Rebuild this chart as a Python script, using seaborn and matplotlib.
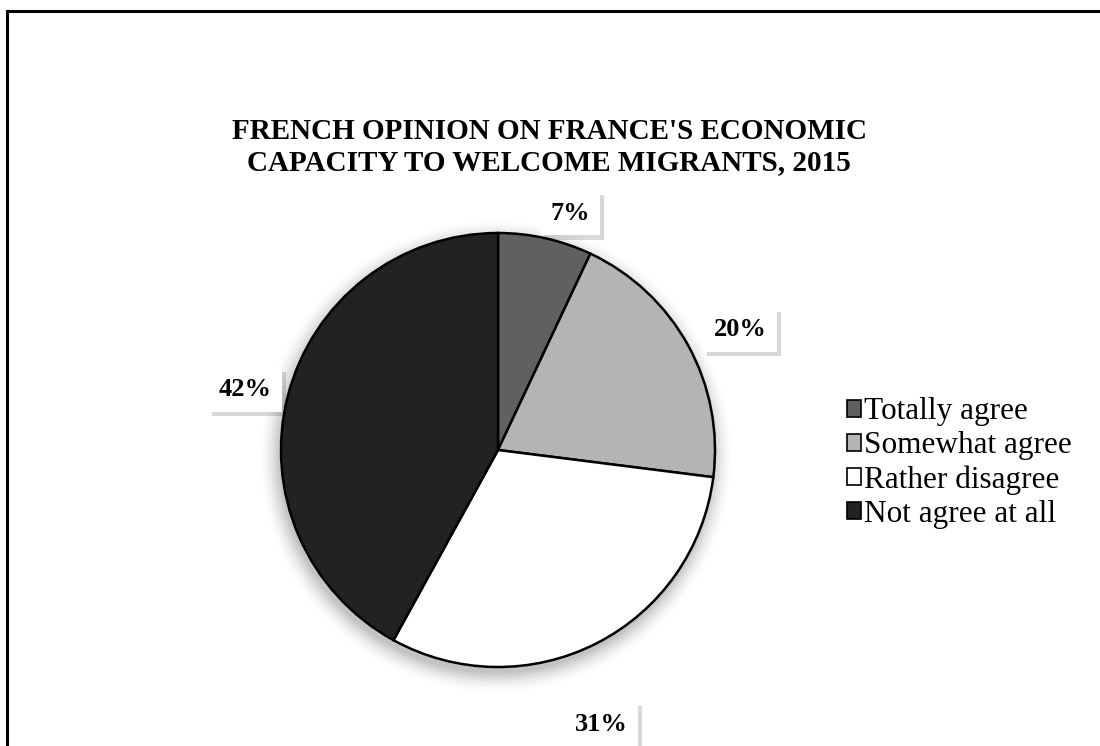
#!/usr/bin/env python3
"""
plot.py - French opinion pie chart, 2015
"""

import matplotlib
matplotlib.use("Agg")
import matplotlib.pyplot as plt
import matplotlib.patheffects as pe
from matplotlib.patches import Patch, Circle, Rectangle
import numpy as np
import seaborn as sns

# ── Data ─────────────────────────────────────────────────────────────
categories = ["Totally agree", "Somewhat agree", "Rather disagree", "Not agree at all"]
shares = [7, 20, 31, 42]
title = "FRENCH OPINION ON FRANCE'S ECONOMIC\nCAPACITY TO WELCOME MIGRANTS, 2015"

# ── Style ────────────────────────────────────────────────────────────
colors = ["#606060", "#b4b4b4", "#ffffff", "#222222"]
label_dist = [1.14, 1.245, 1.35, 1.20]   # outside-end label offsets (radius units)
label_tilt = [-4.3, -2.4, -6.4, 1.0]     # degrees off the wedge mid-angle

sns.set_theme(style="white")
plt.rcParams["font.family"] = ["Liberation Serif", "DejaVu Serif"]
plt.rcParams["text.color"] = "black"

W, H = 1100, 746
fig = plt.figure(figsize=(W / 100, H / 100), dpi=100)
fig.patch.set_facecolor("white")

# outer chart frame (runs off the right/bottom edges like the reference)
fig.add_artist(Rectangle((7 / W, -0.05), 1.2, 1 - 11 / H + 0.05,
                         transform=fig.transFigure, fill=False,
                         edgecolor="black", lw=2.2))

# pie axes: centre (498, 450), radius 217 px
cx, cy, r = 498, 450, 217
ax = fig.add_axes([(cx - r) / W, (H - cy - r) / H, 2 * r / W, 2 * r / H])

wedges, _ = ax.pie(shares, colors=colors, startangle=90, counterclock=False,
                   radius=1.0, wedgeprops=dict(edgecolor="black", linewidth=1.8))
for w in wedges:
    w.set_zorder(2)

ax.set_xlim(-1, 1)
ax.set_ylim(-1, 1)
ax.set_aspect("equal")
ax.axis("off")

# soft shadow under the pie
for i, a in enumerate(np.linspace(0.05, 0.012, 8)):
    ax.add_patch(Circle((-0.01, -0.03), 1.0 + 0.012 * i, color="black",
                        alpha=a, lw=0, zorder=0, clip_on=False))

# percentage labels in white boxes with shadow
theta = 90 - np.cumsum([0] + shares[:-1]) * 3.6 - np.array(shares) * 1.8
for val, ang, d, tilt in zip(shares, theta, label_dist, label_tilt):
    a = np.deg2rad(ang + tilt)
    t = ax.text(d * np.cos(a), d * np.sin(a), f"{val}%", ha="center", va="center",
                fontsize=19, fontweight="bold", color="black", zorder=5,
                bbox=dict(boxstyle="square,pad=0.4", facecolor="white",
                          edgecolor="none"))
    t.get_bbox_patch().set_path_effects(
        [pe.withSimplePatchShadow(offset=(3, -3), shadow_rgbFace="black", alpha=0.15)])

# title
fig.text(549 / W, 1 - 147 / H, title, ha="center", va="center", fontsize=21,
         fontweight="bold", linespacing=1.15, color="black")

# legend
handles = [Patch(facecolor=c, edgecolor="black", lw=1.2) for c in colors]
leg = fig.legend(handles, categories, loc="center left",
                 bbox_to_anchor=(834 / W, 1 - 463 / H), frameon=False, fontsize=22.5,
                 handlelength=0.45, handleheight=0.45, handletextpad=0.1,
                 labelspacing=0.16, borderaxespad=0)
for txt in leg.get_texts():
    txt.set_color("black")

fig.savefig("out.png", dpi=100, facecolor="white")
